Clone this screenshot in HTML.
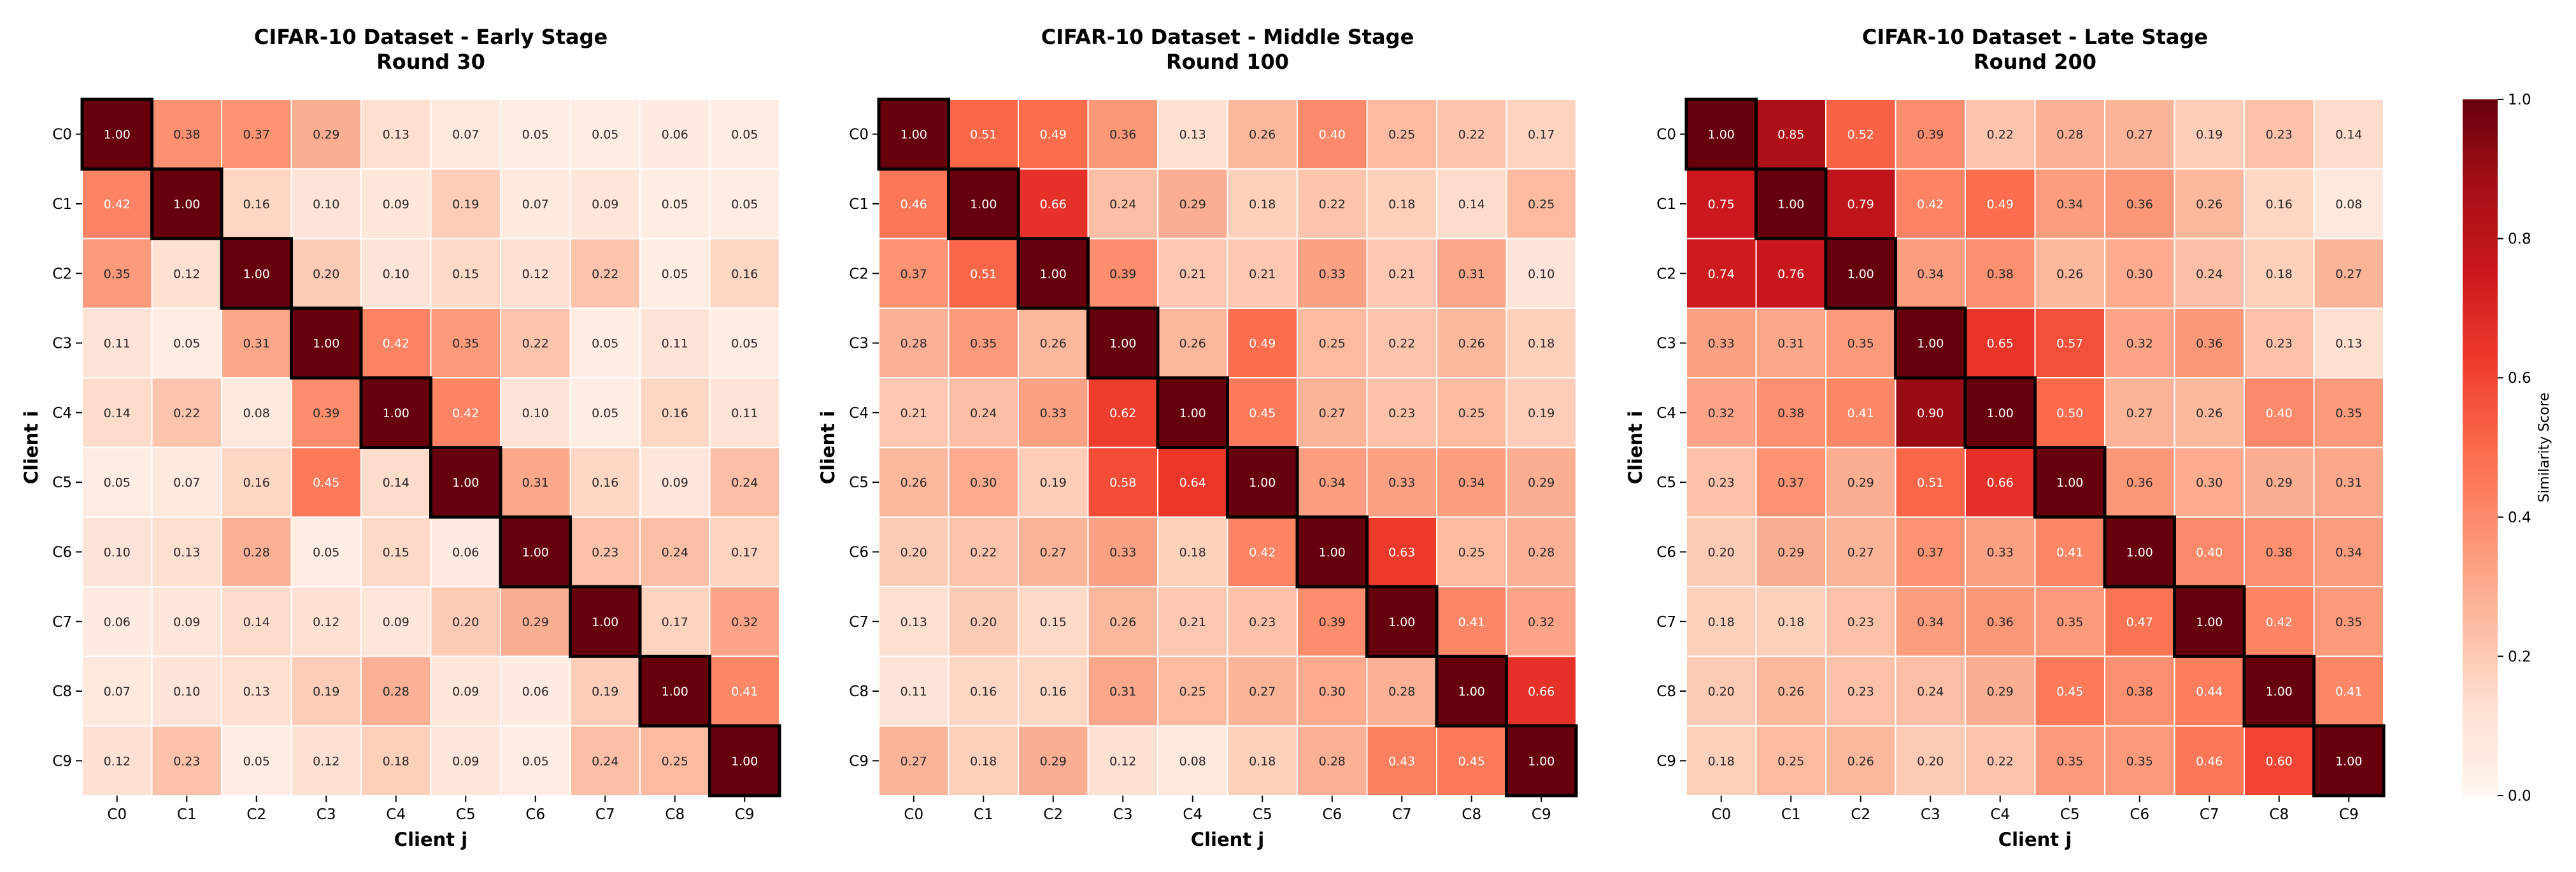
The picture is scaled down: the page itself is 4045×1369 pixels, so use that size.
<!DOCTYPE html>
<html><head><meta charset="utf-8"><style>
html,body{margin:0;padding:0;background:#fff;}
svg{display:block;font-family:"DejaVu Sans","Liberation Sans",sans-serif;}
</style></head><body>
<svg id="chart" width="4045" height="1369" viewBox="0 0 4045 1369" xmlns="http://www.w3.org/2000/svg">
<defs>
<linearGradient id="cbgrad" x1="0" y1="1" x2="0" y2="0">
<stop offset="0" stop-color="#fff5f0"/><stop offset="0.125" stop-color="#fee0d2"/><stop offset="0.25" stop-color="#fcbba1"/><stop offset="0.375" stop-color="#fc9272"/><stop offset="0.5" stop-color="#fb6a4a"/><stop offset="0.625" stop-color="#ef3b2c"/><stop offset="0.75" stop-color="#cb181d"/><stop offset="0.875" stop-color="#a50f15"/><stop offset="1" stop-color="#67000d"/>
</linearGradient>
</defs>
</svg>
<script>
const clients = ["C0","C1","C2","C3","C4","C5","C6","C7","C8","C9"];
const panelTitles = ["CIFAR-10 Dataset - Early Stage","CIFAR-10 Dataset - Middle Stage","CIFAR-10 Dataset - Late Stage"];
const panelRounds = ["Round 30","Round 100","Round 200"];
const earlyValues = [
[1.00,0.38,0.37,0.29,0.13,0.07,0.05,0.05,0.06,0.05],
[0.42,1.00,0.16,0.10,0.09,0.19,0.07,0.09,0.05,0.05],
[0.35,0.12,1.00,0.20,0.10,0.15,0.12,0.22,0.05,0.16],
[0.11,0.05,0.31,1.00,0.42,0.35,0.22,0.05,0.11,0.05],
[0.14,0.22,0.08,0.39,1.00,0.42,0.10,0.05,0.16,0.11],
[0.05,0.07,0.16,0.45,0.14,1.00,0.31,0.16,0.09,0.24],
[0.10,0.13,0.28,0.05,0.15,0.06,1.00,0.23,0.24,0.17],
[0.06,0.09,0.14,0.12,0.09,0.20,0.29,1.00,0.17,0.32],
[0.07,0.10,0.13,0.19,0.28,0.09,0.06,0.19,1.00,0.41],
[0.12,0.23,0.05,0.12,0.18,0.09,0.05,0.24,0.25,1.00]];
const middleValues = [
[1.00,0.51,0.49,0.36,0.13,0.26,0.40,0.25,0.22,0.17],
[0.46,1.00,0.66,0.24,0.29,0.18,0.22,0.18,0.14,0.25],
[0.37,0.51,1.00,0.39,0.21,0.21,0.33,0.21,0.31,0.10],
[0.28,0.35,0.26,1.00,0.26,0.49,0.25,0.22,0.26,0.18],
[0.21,0.24,0.33,0.62,1.00,0.45,0.27,0.23,0.25,0.19],
[0.26,0.30,0.19,0.58,0.64,1.00,0.34,0.33,0.34,0.29],
[0.20,0.22,0.27,0.33,0.18,0.42,1.00,0.63,0.25,0.28],
[0.13,0.20,0.15,0.26,0.21,0.23,0.39,1.00,0.41,0.32],
[0.11,0.16,0.16,0.31,0.25,0.27,0.30,0.28,1.00,0.66],
[0.27,0.18,0.29,0.12,0.08,0.18,0.28,0.43,0.45,1.00]];
const lateValues = [
[1.00,0.85,0.52,0.39,0.22,0.28,0.27,0.19,0.23,0.14],
[0.75,1.00,0.79,0.42,0.49,0.34,0.36,0.26,0.16,0.08],
[0.74,0.76,1.00,0.34,0.38,0.26,0.30,0.24,0.18,0.27],
[0.33,0.31,0.35,1.00,0.65,0.57,0.32,0.36,0.23,0.13],
[0.32,0.38,0.41,0.90,1.00,0.50,0.27,0.26,0.40,0.35],
[0.23,0.37,0.29,0.51,0.66,1.00,0.36,0.30,0.29,0.31],
[0.20,0.29,0.27,0.37,0.33,0.41,1.00,0.40,0.38,0.34],
[0.18,0.18,0.23,0.34,0.36,0.35,0.47,1.00,0.42,0.35],
[0.20,0.26,0.23,0.24,0.29,0.45,0.38,0.44,1.00,0.41],
[0.18,0.25,0.26,0.20,0.22,0.35,0.35,0.46,0.60,1.00]];
const colorbarTicks = [0.0,0.2,0.4,0.6,0.8,1.0];

const NS="http://www.w3.org/2000/svg";
const svg=document.getElementById('chart');
function mk(tag,attrs,parent){const e=document.createElementNS(NS,tag);for(const k in attrs)e.setAttribute(k,attrs[k]);(parent||svg).appendChild(e);return e;}
const stops=["#fff5f0","#fee0d2","#fcbba1","#fc9272","#fb6a4a","#ef3b2c","#cb181d","#a50f15","#67000d"].map(h=>[parseInt(h.slice(1,3),16),parseInt(h.slice(3,5),16),parseInt(h.slice(5,7),16)]);
function cmap(v){v=Math.max(0,Math.min(1,v));const t=v*8;const i=Math.min(7,Math.floor(t));const f=t-i;return stops[i].map((c,k)=>Math.round(c+(stops[i+1][k]-c)*f));}
function lum(rgb){const l=rgb.map(c=>{c/=255;return c<=0.03928?c/12.92:Math.pow((c+0.055)/1.055,2.4);});return 0.2126*l[0]+0.7152*l[1]+0.0722*l[2];}

const panelLeft=[129,1380,2648];
const topY=156, W=1095, H=1093;
const datasets=[earlyValues,middleValues,lateValues];
const n=clients.length;
datasets.forEach((data,p)=>{
  const x0=panelLeft[p];
  const g=mk('g',{});
  
  
  const cw=W/n, ch=H/n;
  const xs=j=>x0+j*cw, ys=i=>topY+i*ch;
  const cx=x0+W/2;
  const t1=mk('text',{x:cx,y:69,'text-anchor':'middle','font-size':32,'font-weight':'bold',fill:'#000'},g);t1.textContent=panelTitles[p];
  
  
  const t2=mk('text',{x:cx,y:108,'text-anchor':'middle','font-size':32,'font-weight':'bold',fill:'#000'},g);t2.textContent=panelRounds[p];
  
  
  for(let i=0;i<n;i++)for(let j=0;j<n;j++){
    const v=data[i][j];const c=cmap(v);
    const r=mk('rect',{x:xs(j),y:ys(i),width:cw,height:ch,fill:`rgb(${c})`,stroke:'#fff','stroke-width':2},g);
    
    
    const tx=mk('text',{x:xs(j)+cw/2,y:ys(i)+ch/2+7,'text-anchor':'middle','font-size':19,fill:lum(c)<0.408?'#ffffff':'#262626'},g);
    tx.textContent=v.toFixed(2);
    
    
  }
  for(let i=0;i<n;i++){
    const b=mk('rect',{x:xs(i),y:ys(i),width:cw,height:ch,fill:'none',stroke:'#000','stroke-width':5},g);
    
    
  }
  for(let k=0;k<n;k++){
    mk('line',{x1:x0-10,x2:x0,y1:ys(k)+ch/2,y2:ys(k)+ch/2,stroke:'#000','stroke-width':2},g);
    const yl=mk('text',{x:x0-16,y:ys(k)+ch/2+8,'text-anchor':'end','font-size':23,fill:'#000'},g);yl.textContent=clients[k];
    
    
    mk('line',{x1:xs(k)+cw/2,x2:xs(k)+cw/2,y1:topY+H,y2:topY+H+10,stroke:'#000','stroke-width':2},g);
    const xl=mk('text',{x:xs(k)+cw/2,y:topY+H+37,'text-anchor':'middle','font-size':23,fill:'#000'},g);xl.textContent=clients[k];
    
    
  }
  const xt=mk('text',{x:cx,y:1328,'text-anchor':'middle','font-size':29,'font-weight':'bold',fill:'#000'},g);xt.textContent='Client j';
  
  
  const yt=mk('text',{x:0,y:0,'text-anchor':'middle','font-size':29,'font-weight':'bold',fill:'#000',transform:`translate(${x0-70},${topY+H/2}) rotate(-90)`},g);yt.textContent='Client i';
  
  
});
const cb=mk('g',{});


const cbx=3867,cbw=55;
const cbr=mk('rect',{x:cbx,y:topY,width:cbw,height:H,fill:'url(#cbgrad)'},cb);


const cy=v=>topY+H-v*H;
colorbarTicks.forEach(v=>{
  mk('line',{x1:cbx+cbw,x2:cbx+cbw+9,y1:cy(v),y2:cy(v),stroke:'#000','stroke-width':2},cb);
  const t=mk('text',{x:cbx+cbw+16,y:cy(v)+8,'font-size':23,fill:'#000'},cb);t.textContent=v.toFixed(1);
  
  
});
const cl=mk('text',{x:0,y:0,'text-anchor':'middle','font-size':22,fill:'#000',transform:`translate(4002,${topY+H/2}) rotate(-90)`},cb);cl.textContent='Similarity Score';


</script>
</body></html>
